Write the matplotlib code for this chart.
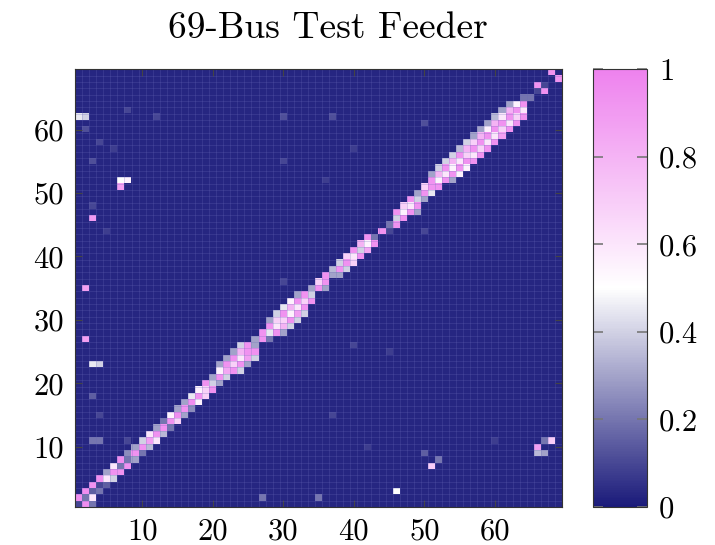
import numpy as np
import matplotlib
matplotlib.use("Agg")
import matplotlib.pyplot as plt
from matplotlib.colors import LinearSegmentedColormap

# ---- data ----------------------------------------------------------------
n_bus = 69
title = "69-Bus Test Feeder"
axis_ticks = [10, 20, 30, 40, 50, 60]
cbar_ticks = [0, 0.2, 0.4, 0.6, 0.8, 1]
cbar_labels = ["0", "0.2", "0.4", "0.6", "0.8", "1"]
background = 0.03

# band around the diagonal: one entry per row (bus 1..69),
# first column of the run and the values along the row
band_start = [
    1, 1, 2, 3, 4, 5, 6, 7, 8, 9,
    10, 11, 12, 13, 14, 15, 16, 17, 18, 19,
    20, 21, 21, 22, 23, 24, 26, 27, 28, 28,
    29, 30, 31, 32, 34, 35, 36, 37, 38, 39,
    40, 41, 42, 44, 45, 46, 46, 47, 48, 49,
    50, 51, 51, 52, 53, 54, 55, 56, 57, 58,
    59, 60, 61, 62, 64, 66, 66, 69, 68,
]
band_vals = [
    [0.1, 0.95, 0.2], [0.95, 0.2, 0.6], [0.95, 0.15, 0.2], [0.93, 0.1, 0.15], [0.95, 0.6, 0.4],
    [0.3, 0.93, 0.93], [0.6, 0.2, 0.93], [0.95, 0.2, 0.3], [0.25, 0.93, 0.2], [0.3, 0.93, 0.35],
    [0.4, 0.88, 0.6], [0.6, 0.93, 0.35], [0.3, 0.93, 0.2], [0.2, 0.93, 0.68], [0.55, 0.95, 0.3],
    [0.3, 0.93, 0.25], [0.3, 0.95, 0.55], [0.45, 0.93, 0.68], [0.55, 0.68, 0.93], [0.93, 0.4, 0.3],
    [0.3, 0.93, 0.4], [0.55, 0.85, 0.93, 0.4], [0.3, 0.93, 0.68, 0.93, 0.3], [0.3, 0.93, 0.6, 0.88, 0.4],
    [0.3, 0.8, 0.93, 0.93], [0.4, 0.93, 0.3], [0.3, 0.93, 0.2], [0.93, 0.45, 0.93, 0.3],
    [0.93, 0.6, 0.8, 0.4], [0.3, 0.68, 0.68, 0.93, 0.4], [0.4, 0.93, 0.55, 0.88, 0.4],
    [0.45, 0.8, 0.6, 0.93], [0.55, 0.93, 0.68, 0.93], [0.3, 0.93, 0.4], [0.3, 0.93, 0.3],
    [0.68, 0.93], [0.93, 0.3, 0.3], [0.35, 0.93, 0.4], [0.4, 0.93, 0.68], [0.68, 0.6, 0.93],
    [0.93, 0.4, 0.85], [0.8, 0.55, 0.93], [0.93, 0.2], [0.93, 0.1], [0.2, 0.93],
    [0.4, 0.93], [0.93, 0.55, 0.93, 0.3], [0.68, 0.6, 0.93], [0.93, 0.4, 0.3], [0.3, 0.93, 0.45],
    [0.68, 0.93, 0.93], [0.93, 0.55, 0.93, 0.3], [0.3, 0.8, 0.6, 0.93, 0.55], [0.4, 0.93, 0.55, 0.93, 0.55],
    [0.4, 0.8, 0.6, 0.93, 0.93], [0.4, 0.93, 0.68, 0.6, 0.93], [0.35, 0.8, 0.93, 0.68, 0.93],
    [0.4, 0.68, 0.93, 0.6, 0.93], [0.3, 0.8, 0.93, 0.6, 0.88], [0.3, 0.55, 0.93, 0.68, 0.93],
    [0.3, 0.8, 0.93, 0.6, 0.93], [0.35, 0.6, 0.93, 0.68, 0.93], [0.3, 0.8, 0.93, 0.6],
    [0.3, 0.55, 0.93], [0.2, 0.2], [0.1, 0.93], [0.93, 0.1], [0.93], [0.93],
]

# isolated cells away from the diagonal: (column, row, value)
stray_cells = [
    (1, 62, 0.45), (2, 62, 0.4), (3, 46, 0.9), (7, 51, 0.88), (7, 52, 0.5), (8, 52, 0.55),
    (2, 35, 0.88), (2, 27, 0.88), (3, 23, 0.45), (4, 23, 0.4),
    (46, 3, 0.5), (51, 7, 0.7), (52, 8, 0.2), (50, 9, 0.15), (35, 2, 0.2), (27, 2, 0.2),
    (66, 10, 0.88), (68, 11, 0.7), (66, 9, 0.35), (67, 9, 0.3), (67, 11, 0.2),
]
faint_cells = [
    (2, 60, 0.12), (4, 58, 0.1), (3, 55, 0.12), (3, 48, 0.1), (5, 44, 0.08), (3, 18, 0.15),
    (4, 15, 0.1), (3, 11, 0.2), (4, 11, 0.2), (8, 11, 0.1), (30, 62, 0.12), (37, 62, 0.12),
    (30, 55, 0.1), (36, 52, 0.08), (50, 61, 0.12), (50, 44, 0.1), (30, 36, 0.1),
    (40, 26, 0.1), (45, 25, 0.08), (37, 15, 0.1), (42, 10, 0.08), (60, 11, 0.08),
    (8, 63, 0.1), (12, 62, 0.1), (6, 57, 0.08), (40, 57, 0.08),
]

# ---- matrix ---------------------------------------------------------------
mat = np.full((n_bus, n_bus), background)
for r, (c0, vals) in enumerate(zip(band_start, band_vals)):
    for k, v in enumerate(vals):
        mat[r, c0 - 1 + k] = v
for c, r, v in stray_cells + faint_cells:
    mat[r - 1, c - 1] = v

cmap = LinearSegmentedColormap.from_list(
    "navywhiteviolet", ["#1a1a7a", "#ffffff", "#ee82ee"]
)

plt.rcParams["font.family"] = ["cmr10", "DejaVu Serif"]
plt.rcParams["axes.formatter.use_mathtext"] = True

fig = plt.figure(figsize=(7.15, 5.45), dpi=100)
ax = fig.add_axes([0.105, 0.0697, 0.681, 0.803])

im = ax.imshow(
    mat, origin="lower", cmap=cmap, vmin=0, vmax=1, aspect="auto",
    extent=(0.5, n_bus + 0.5, 0.5, n_bus + 0.5), interpolation="nearest",
)

# faint cell borders like the pgfplots matrix plot
ax.set_xticks(np.arange(0.5, n_bus + 1, 1), minor=True)
ax.set_yticks(np.arange(0.5, n_bus + 1, 1), minor=True)
ax.grid(which="minor", color="#6a6ab8", linewidth=0.5, alpha=0.35)
ax.tick_params(which="minor", length=0)

ax.set_xticks(axis_ticks)
ax.set_yticks(axis_ticks)
ax.set_xticklabels([str(t) for t in axis_ticks])
ax.set_yticklabels([str(t) for t in axis_ticks])
ax.tick_params(which="major", direction="in", length=5, color="#444444",
               labelsize=22, pad=8, top=True, right=True)
ax.set_xlim(0.5, n_bus + 0.5)
ax.set_ylim(0.5, n_bus + 0.5)
for sp in ax.spines.values():
    sp.set_color("#333333")
    sp.set_linewidth(0.8)

cax = fig.add_axes([0.829, 0.0697, 0.0755, 0.803])
cb = fig.colorbar(im, cax=cax, ticks=cbar_ticks)
cb.ax.set_yticklabels(cbar_labels)
cb.outline.set_edgecolor("#333333")
cb.outline.set_linewidth(0.8)
cax.tick_params(direction="in", length=7, width=1.2, color="#777777",
                left=True, right=True, labelsize=22, pad=9)

fig.text(0.459, 0.93, title, ha="center", va="baseline", fontsize=27)

fig.savefig("out.png", dpi=100, facecolor="white")
